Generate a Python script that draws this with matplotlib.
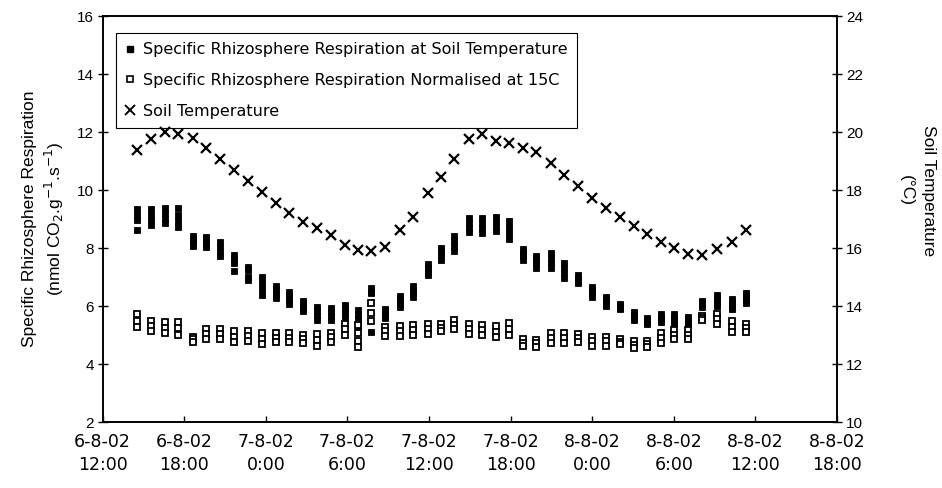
import matplotlib
matplotlib.use("Agg")
import matplotlib.pyplot as plt
import numpy as np
from matplotlib.lines import Line2D

# ---------------- data ----------------
# time of each measurement, hours after 6-8-02 12:00
hours = [2.50, 3.55, 4.57, 5.55, 6.61, 7.58, 8.61, 9.64, 10.69, 11.72,
         12.72, 13.70, 14.73, 15.76, 16.81, 17.79, 18.77, 19.75, 20.73, 21.88,
         22.80, 23.91, 24.89, 25.87, 26.92, 27.90, 28.93, 29.90, 30.88, 31.87,
         32.97, 33.94, 34.99, 36.02, 37.00, 38.03, 39.08, 40.06, 41.04, 42.02,
         43.07, 44.10, 45.20, 46.26, 47.28]

soil_temp = [19.38, 19.75, 20.02, 19.95, 19.78, 19.46, 19.08, 18.71, 18.30, 17.92,
             17.55, 17.20, 16.91, 16.68, 16.44, 16.12, 15.92, 15.91, 16.05, 16.62,
             17.06, 17.90, 18.45, 19.08, 19.75, 19.92, 19.69, 19.64, 19.46, 19.31,
             18.94, 18.53, 18.13, 17.73, 17.39, 17.06, 16.75, 16.47, 16.20, 16.00,
             15.80, 15.77, 15.98, 16.20, 16.64]

# specific rhizosphere respiration at soil temperature (replicates, top -> bottom)
resp_a = [9.34, 9.34, 9.38, 9.38, 8.42, 8.39, 8.20, 7.76, 7.36, 6.99,
          6.70, 6.47, 6.18, 5.98, 5.93, 6.05, 5.85, 6.64, 5.90, 6.36,
          6.70, 7.45, 8.02, 8.42, 9.03, 9.03, 9.08, 8.92, 7.97, 7.73,
          7.82, 7.47, 7.08, 6.67, 6.32, 6.07, 5.78, 5.59, 5.72, 5.72,
          5.61, 6.18, 6.39, 6.24, 6.44]
resp_b = [9.15, 9.15, 9.20, 9.15, 8.30, 8.27, 8.04, 7.62, 7.25, 6.80,
          6.56, 6.34, 6.06, 5.83, 5.80, 5.91, 5.70, 6.50, 5.80, 6.23,
          6.57, 7.32, 7.88, 8.25, 8.87, 8.86, 8.91, 8.72, 7.84, 7.60,
          7.65, 7.31, 6.98, 6.55, 6.22, 6.01, 5.69, 5.53, 5.63, 5.61,
          5.53, 6.11, 6.27, 6.13, 6.33]
resp_c = [8.97, 8.96, 9.02, 8.93, 8.20, 8.15, 7.88, 7.50, 7.00, 6.60,
          6.43, 6.22, 5.95, 5.67, 5.66, 5.77, 5.55, 6.44, 5.70, 6.10,
          6.45, 7.19, 7.73, 8.07, 8.71, 8.68, 8.75, 8.52, 7.72, 7.46,
          7.49, 7.14, 6.88, 6.44, 6.12, 5.95, 5.60, 5.46, 5.54, 5.50,
          5.45, 6.05, 6.14, 6.02, 6.22]
resp_d = [8.62, 8.78, 8.85, 8.72, 8.09, 8.03, 7.72, 7.21, 6.90, 6.40,
          6.29, 6.09, 5.83, 5.52, 5.52, 5.63, 5.30, 5.11, 5.60, 5.98,
          6.32, 7.06, 7.59, 7.90, 8.55, 8.51, 8.59, 8.32, 7.59, 7.32,
          7.32, 6.98, 6.78, 6.32, 6.02, 5.89, 5.52, 5.40, 5.45, 5.40,
          5.37, 5.98, 6.02, 5.91, 6.11]

# specific rhizosphere respiration normalised at 15C (replicates)
norm_a = [5.72, 5.47, 5.44, 5.46, 4.94, 5.21, 5.21, 5.13, 5.13, 5.06,
          5.06, 5.06, 5.02, 5.03, 5.09, 5.38, 5.35, 6.10, 5.29, 5.33,
          5.36, 5.40, 5.38, 5.52, 5.40, 5.36, 5.33, 5.43, 4.86, 4.84,
          5.09, 5.09, 5.03, 4.94, 4.94, 4.86, 4.78, 4.78, 5.06, 5.17,
          5.17, 5.67, 5.72, 5.47, 5.40]
norm_b = [5.50, 5.30, 5.25, 5.24, 4.85, 5.04, 5.04, 4.95, 4.96, 4.87,
          4.91, 4.91, 4.87, 4.84, 4.92, 5.20, 5.07, 5.75, 5.13, 5.15,
          5.19, 5.22, 5.26, 5.36, 5.22, 5.19, 5.12, 5.22, 4.74, 4.72,
          4.91, 4.90, 4.90, 4.79, 4.79, 4.77, 4.67, 4.68, 4.90, 5.01,
          5.01, 5.60, 5.56, 5.29, 5.25]
norm_c = [5.29, 5.14, 5.06, 5.02, 4.76, 4.87, 4.87, 4.76, 4.79, 4.68,
          4.76, 4.76, 4.73, 4.64, 4.76, 5.02, 4.80, 5.50, 4.97, 4.97,
          5.02, 5.05, 5.14, 5.20, 5.05, 5.02, 4.92, 5.02, 4.62, 4.60,
          4.73, 4.72, 4.76, 4.64, 4.64, 4.68, 4.56, 4.58, 4.73, 4.85,
          4.85, 5.52, 5.40, 5.10, 5.10]
norm_extra_hours = [18.77]
norm_extra = [4.60]

tick_hours = [0, 6, 12, 18, 24, 30, 36, 42, 48, 54]
tick_labels = ["6-8-02\n12:00", "6-8-02\n18:00", "7-8-02\n0:00", "7-8-02\n6:00",
               "7-8-02\n12:00", "7-8-02\n18:00", "8-8-02\n0:00", "8-8-02\n6:00",
               "8-8-02\n12:00", "8-8-02\n18:00"]

label_resp = "Specific Rhizosphere Respiration at Soil Temperature"
label_norm = "Specific Rhizosphere Respiration Normalised at 15C"
label_temp = "Soil Temperature"

# ---------------- plot ----------------
plt.rcParams['font.family'] = ['Liberation Sans', 'DejaVu Sans']
fig = plt.figure(figsize=(9.42, 4.88), dpi=100)
ax = fig.add_axes([0.109, 0.135, 0.7795, 0.832])
ax2 = ax.twinx()

x = np.array(hours)
for series in (resp_a, resp_b, resp_c, resp_d):
    ax.plot(x, series, linestyle='none', marker='s', markersize=4.6,
            color='black', markeredgewidth=0.6, zorder=3)
for series in (norm_a, norm_b, norm_c):
    ax.plot(x, series, linestyle='none', marker='s', markersize=4.6,
            markerfacecolor='white', markeredgecolor='black',
            markeredgewidth=1.3, zorder=4)
ax.plot(norm_extra_hours, norm_extra, linestyle='none', marker='s', markersize=4.6,
        markerfacecolor='white', markeredgecolor='black', markeredgewidth=1.3, zorder=4)

ax2.plot(x, soil_temp, linestyle='none', marker='x', markersize=7.3,
         markeredgewidth=1.6, color='black', zorder=5)

ax.set_xlim(0, 54)
ax.set_ylim(2, 16)
ax2.set_ylim(10, 24)
ax.set_yticks(np.arange(2, 17, 2))
ax2.set_yticks(np.arange(10, 25, 2))
ax.set_xticks(tick_hours)
ax.set_xticklabels(tick_labels, fontfamily='DejaVu Sans', fontsize=12.5,
                   linespacing=1.35)

ax.tick_params(axis='y', direction='inout', length=7, width=1, labelsize=11, pad=3)
ax2.tick_params(axis='y', direction='inout', length=7, width=1, labelsize=11, pad=3)
ax.tick_params(axis='x', direction='in', length=4, width=1, pad=8)
for a in (ax, ax2):
    for s in a.spines.values():
        s.set_linewidth(1.2)
        s.set_color('black')

ax.set_ylabel("Specific Rhizosphere Respiration\n(nmol CO$_2$.g$^{-1}$.s$^{-1}$)",
              fontsize=12.5, linespacing=1.3, labelpad=8)
ax2.set_ylabel("Soil Temperature\n(\u00b0C)", fontsize=12.5, rotation=270,
               linespacing=1.6)
ax2.yaxis.set_label_coords(1.135, 0.57)

handles = [
    Line2D([], [], linestyle='none', marker='s', markersize=4.5, color='black'),
    Line2D([], [], linestyle='none', marker='s', markersize=4.5,
           markerfacecolor='white', markeredgecolor='black', markeredgewidth=1.2),
    Line2D([], [], linestyle='none', marker='x', markersize=7.0,
           markeredgewidth=1.4, color='black'),
]
leg = ax.legend(handles, [label_resp, label_norm, label_temp],
                loc='upper left', bbox_to_anchor=(0.018, 0.959), borderaxespad=0,
                frameon=True, fancybox=False, edgecolor='black', framealpha=1,
                prop={'family': 'DejaVu Sans', 'size': 11.5},
                handlelength=0.6, handletextpad=0.5, labelspacing=0.98,
                borderpad=0.6)
leg.get_frame().set_linewidth(0.8)
leg.set_zorder(10)

fig.savefig("out.png", dpi=100)
